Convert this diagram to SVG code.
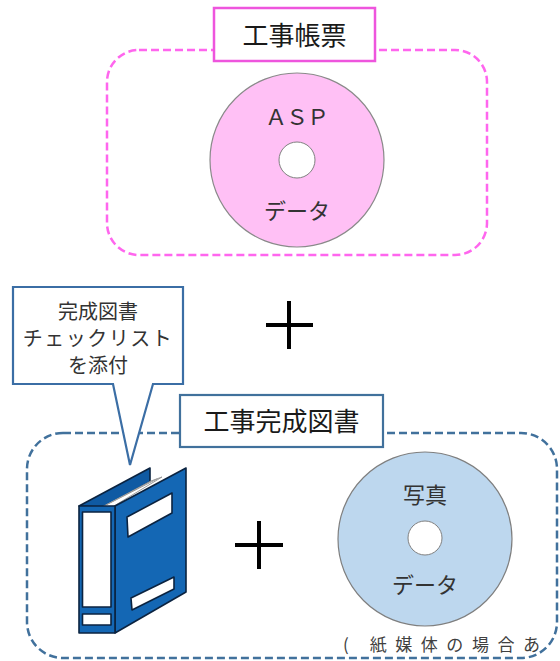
<svg xmlns="http://www.w3.org/2000/svg" width="560" height="661" viewBox="0 0 560 661">
  <style>
    .jp { font-family: "Noto Sans CJK JP", "Noto Sans", sans-serif; }
    .frame-pink { fill: none; stroke: #ff66ee; stroke-width: 2.5; stroke-dasharray: 8 4; }
    .frame-blue { fill: none; stroke: #41719c; stroke-width: 2.5; stroke-dasharray: 8 4; }
    .tag-pink { fill: #ffffff; stroke: #ee55dd; stroke-width: 2.5; }
    .tag-blue { fill: #ffffff; stroke: #41719c; stroke-width: 2.2; }
    .tag-text { font-size: 26px; fill: #1a1a1a; text-anchor: middle; }
    .disc-text { font-size: 22px; fill: #333333; text-anchor: middle; }
    .plus { stroke: #000000; stroke-width: 4; fill: none; }
    .hole { fill: #ffffff; stroke: #808080; stroke-width: 1; }
    .book-line { stroke: #0b2340; stroke-width: 1.6; stroke-linejoin: round; }
  </style>

  <!-- 工事帳票 group -->
  <g id="form-group">
    <rect class="frame-pink" x="107" y="50" width="380" height="205" rx="32" ry="32"/>
    <g id="form-tag">
      <rect class="tag-pink" x="214" y="8" width="161" height="53"/>
      <text class="jp tag-text" x="294.5" y="44.5">工事帳票</text>
    </g>
    <g id="asp-disc">
      <circle cx="297" cy="160" r="87" fill="#ffc0f5" stroke="#8a8a8a" stroke-width="1.2"/>
      <circle class="hole" cx="297" cy="160" r="18"/>
      <text class="jp disc-text" x="297" y="125" textLength="64" lengthAdjust="spacing">ＡＳＰ</text>
      <text class="jp disc-text" x="297" y="219">データ</text>
    </g>
  </g>

  <!-- plus between the two groups -->
  <g id="plus-top">
    <path class="plus" d="M266 325 H313 M289 301 V349"/>
  </g>

  <!-- 工事完成図書 group -->
  <g id="completion-group">
    <rect class="frame-blue" x="27" y="433" width="530" height="225" rx="36" ry="36"/>
    <g id="completion-tag">
      <rect class="tag-blue" x="180" y="395" width="203" height="52"/>
      <text class="jp tag-text" x="281.5" y="430.5">工事完成図書</text>
    </g>

    <!-- binder -->
    <g id="binder">
      <polygon class="book-line" fill="#0f5aa3" points="79,506 150,468 150,482 104,507"/>
      <polygon fill="#ffffff" stroke="#9a9a9a" stroke-width="1" points="102,507 151,481 162,477 114,506"/>
      <line x1="106" y1="505" x2="157" y2="479" stroke="#9a9a9a" stroke-width="1"/>
      <polygon class="book-line" fill="#1467b4" points="115,506 186,468 186,592 115,633"/>
      <rect class="book-line" fill="#1467b4" x="79" y="506" width="36" height="127"/>
      <rect class="book-line" fill="#ffffff" x="82.5" y="512" width="28.5" height="95"/>
      <rect class="book-line" fill="#ffffff" x="82.5" y="614" width="28.5" height="11"/>
      <polygon class="book-line" fill="#ffffff" stroke-width="2" points="127,517 172,493 172,513 128,537"/>
      <polygon class="book-line" fill="#ffffff" stroke-width="2" points="131,598 174,577 174,589 132,610"/>
    </g>

    <g id="plus-bottom">
      <path class="plus" d="M235 545 H283 M259 521 V569"/>
    </g>

    <g id="photo-disc">
      <circle cx="425" cy="539" r="87" fill="#bdd7ee" stroke="#7f7f7f" stroke-width="1.2"/>
      <circle class="hole" cx="425" cy="538" r="17"/>
      <text class="jp disc-text" x="425" y="503">写真</text>
      <text class="jp disc-text" x="425" y="593">データ</text>
    </g>

    <text class="jp" x="343" y="651" font-size="17" fill="#404040" textLength="197" lengthAdjust="spacing">( 紙媒体の場合あ</text>
  </g>

  <!-- callout note -->
  <g id="checklist-callout">
    <path d="M13 287 H183 V384 H153 L130 465 L113 384 H13 Z" fill="#ffffff" stroke="#3b6ea5" stroke-width="2.2" stroke-linejoin="miter"/>
    <g class="jp" font-size="20" fill="#333333" text-anchor="middle">
      <text x="98" y="319">完成図書</text>
      <text x="98" y="346" letter-spacing="1.5">チェックリスト</text>
      <text x="98" y="373">を添付</text>
    </g>
  </g>
</svg>
